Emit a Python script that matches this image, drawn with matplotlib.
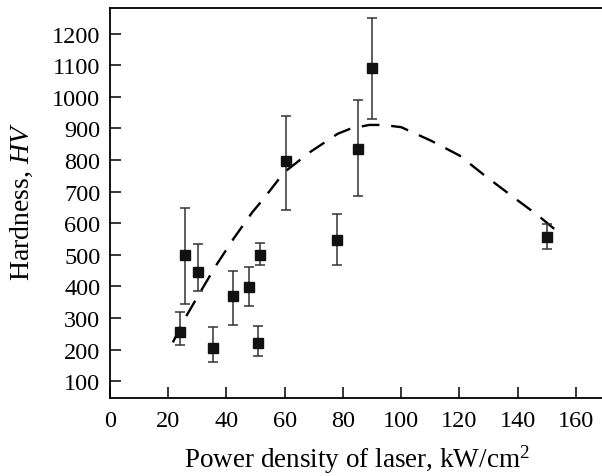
import numpy as np
import matplotlib
matplotlib.use('Agg')
import matplotlib.pyplot as plt

# fonts: Times-like serif everywhere
plt.rcParams['font.family'] = 'Liberation Serif'
plt.rcParams['mathtext.fontset'] = 'custom'
plt.rcParams['mathtext.rm'] = 'Liberation Serif'
plt.rcParams['mathtext.it'] = 'Liberation Serif:italic'

# measured points (power density, hardness) with error bar ends
power    = [24.1, 25.9, 30.2, 35.4, 42.3, 47.9, 50.7, 51.4, 60.5, 77.9, 85.1, 90.0, 150.2]
hardness = [257, 500, 447, 204, 369, 397, 222, 500, 797, 548, 836, 1091, 558]
err_top  = [318, 648, 535, 271, 450, 461, 276, 538, 940, 628, 991, 1250, 598]
err_bot  = [215, 345, 387, 162, 278, 339, 179, 469, 643, 469, 687, 931, 519]

# dashed trend curve
fit_x = [21.6, 25.3, 31.0, 36.4, 42.5, 48.9, 52.9, 59.8, 68.7, 78.2, 82.8, 89.1, 93.7, 100.0, 110.3, 120.1, 128.7, 137.9, 147.1, 153.0]
fit_y = [223, 292, 382, 466, 552, 635, 679, 761, 825, 883, 900, 911, 911, 904, 861, 814, 751, 687, 624, 579]

xticks = [0, 20, 40, 60, 80, 100, 120, 140, 160]
yticks = [100, 200, 300, 400, 500, 600, 700, 800, 900, 1000, 1100, 1200]

fig = plt.figure(figsize=(6.02, 4.77), dpi=100)
ax = fig.add_axes([110/602, 78/477, 492/602, 390/477])

h = np.array(hardness)
yerr = [h - np.array(err_bot), np.array(err_top) - h]
ax.errorbar(power, hardness, yerr=yerr, fmt='s', color='#111111', ecolor='#333333',
            markersize=7.5, elinewidth=1.1, capsize=3.8, capthick=1.1, zorder=3)
ax.plot(fit_x, fit_y, color='black', lw=1.7, dashes=(7.5, 5), zorder=2)

ax.set_xlim(0, 169)
ax.set_ylim(47, 1281)
ax.set_xticks(xticks)
ax.set_yticks(yticks)
ax.tick_params(direction='in', length=8, width=1.1, labelsize=17.5, pad=9)
ax.tick_params(axis='y', pad=7)
for s in ['left', 'bottom', 'top']:
    ax.spines[s].set_linewidth(1.3)
ax.spines['right'].set_visible(False)

# axis titles placed where they sit in the original
fig.text(357/602, 9/477, 'Power density of laser, kW/cm$^2$', fontsize=19.5,
         ha='center', va='baseline')
fig.text(22/602, 1 - 202/477, 'Hardness, $HV$', fontsize=20, rotation=90,
         ha='center', va='center')

plt.savefig('out.png', dpi=100)
